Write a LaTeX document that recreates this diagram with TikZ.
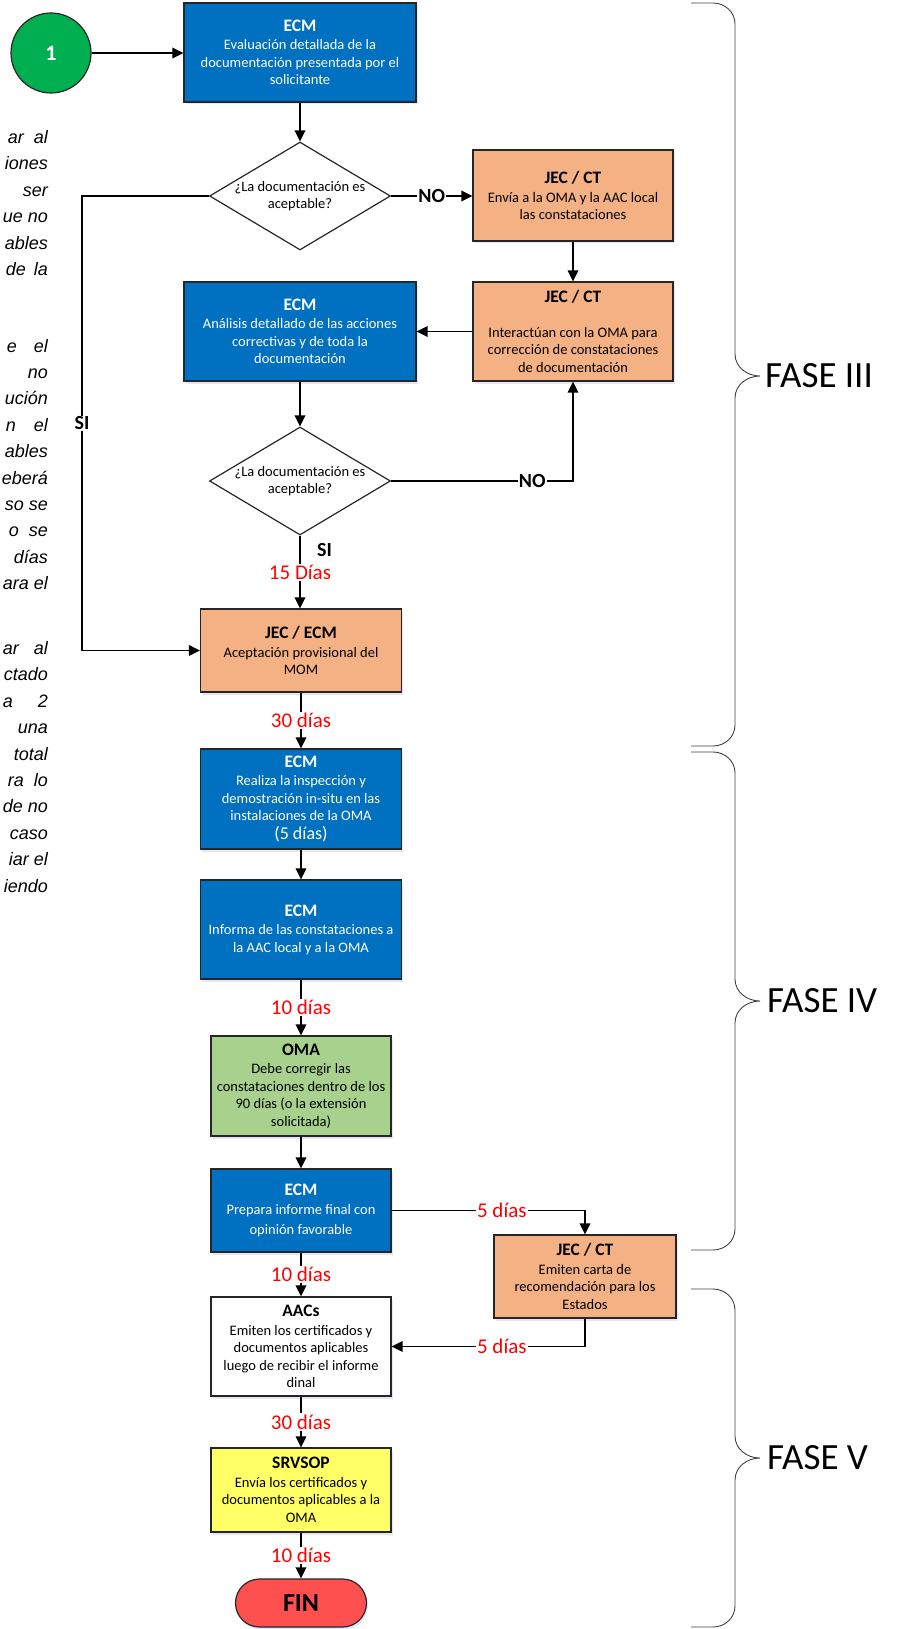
\documentclass[tikz,border=0pt]{standalone}
\usepackage{fontspec}
\setmainfont{Carlito}
\newfontfamily\sidefont{Liberation Sans}
\usetikzlibrary{arrows.meta,shapes.geometric,shadows}

\definecolor{ecmblue}{HTML}{0070C0}
\definecolor{jecorange}{HTML}{F4B183}
\definecolor{omagreen}{HTML}{A9D18E}
\definecolor{srvyellow}{HTML}{FFFF66}
\definecolor{startgreen}{HTML}{00B050}
\definecolor{finred}{HTML}{FF5050}
\definecolor{dayred}{HTML}{FF0000}
\definecolor{edgeline}{HTML}{262626}
\definecolor{bracegray}{HTML}{404040}

% bold heading line of a process box
\newcommand\hd[1]{{\fontsize{17.5}{20}\selectfont\bfseries #1}}

\tikzset{
  box/.style={rectangle, draw=edgeline, line width=1.2pt, align=center, inner sep=2pt,
    font=\fontsize{14.5}{17.5}\selectfont,
    drop shadow={shadow xshift=1.5pt, shadow yshift=-2.5pt, fill=black!30!blue!40, opacity=0.25}},
  ecm/.style={box, fill=ecmblue, text=white},
  jec/.style={box, fill=jecorange},
  oma/.style={box, fill=omagreen},
  srv/.style={box, fill=srvyellow},
  plainbox/.style={box, fill=white},
  dia/.style={diamond, draw=edgeline, line width=1.2pt, fill=white,
    minimum width=181pt, minimum height=108pt, inner sep=0pt},
  dtxt/.style={align=center, inner sep=0pt, font=\fontsize{14.5}{17.5}\selectfont},
  startc/.style={circle, draw=edgeline, line width=1.2pt, fill=startgreen, minimum size=80pt,
    inner sep=0pt, text=white, font=\fontsize{22}{24}\selectfont\bfseries},
  finnode/.style={rectangle, rounded corners=24pt, draw=edgeline, line width=1.2pt, fill=finred,
    minimum width=131pt, minimum height=48pt, inner sep=0pt,
    font=\fontsize{26}{28}\selectfont\bfseries,
    drop shadow={shadow xshift=1.5pt, shadow yshift=-2.5pt, fill=black!30!blue!40, opacity=0.25}},
  arr/.style={draw=black, line width=1.8pt, -{Triangle[length=11pt,width=10.5pt]}},
  day/.style={fill=white, text=dayred, inner sep=1.5pt, font=\fontsize{21}{24}\selectfont},
  yn/.style={fill=white, inner sep=1pt, font=\fontsize{20}{24}\selectfont\bfseries},
  brc/.style={draw=bracegray, line width=0.9pt},
  fase/.style={anchor=west, inner sep=0pt, font=\fontsize{37}{40}\selectfont},
  side/.style={anchor=base east, inner sep=0pt, font=\sidefont\itshape\fontsize{18}{20}\selectfont}
}

\begin{document}
\begin{tikzpicture}[x=1pt,y=-1pt]
\useasboundingbox (0,0) rectangle (898,1629);

% ---------- side paragraph (cut at the page edge) ----------
\node[side] (s1) at (48,143.5) {ar\hspace{10pt}al};
\node[side] (s2) at (48,169.9) {iones};
\node[side] (s3) at (48,196.3) {ser};
\node[side] (s4) at (48,222.7) {ue no};
\node[side] (s5) at (48,249.1) {ables};
\node[side] (s6) at (48,275.5) {de\hspace{8pt}la};

\node[side] (s7) at (48,352) {e\hspace{17pt}el};
\node[side] (s8) at (48,378.4) {no};
\node[side] (s9) at (48,404.8) {ución};
\node[side] (s10) at (48,431.2) {n\hspace{18pt}el};
\node[side] (s11) at (48,457.6) {ables};
\node[side] (s12) at (48,484) {eberá};
\node[side] (s13) at (48,510.4) {so se};
\node[side] (s14) at (48,536.8) {o\hspace{10pt}se};
\node[side] (s15) at (48,563.2) {días};
\node[side] (s16) at (48,589.6) {ara el};

\node[side] (s17) at (48,654.5) {ar\hspace{15pt}al};
\node[side] (s18) at (48,680.9) {ctado};
\node[side] (s19) at (48,707.3) {a\hspace{25pt}2};
\node[side] (s20) at (48,733.7) {una};
\node[side] (s21) at (48,760.1) {total};
\node[side] (s22) at (48,786.5) {ra\hspace{10pt}lo};
\node[side] (s23) at (48,812.9) {de no};
\node[side] (s24) at (48,839.3) {caso};
\node[side] (s25) at (48,865.7) {iar el};
\node[side] (s26) at (48,892.1) {iendo};

% ---------- flow nodes ----------
\node[startc] (c1) at (51,53) {1};

\node[ecm, minimum width=232pt, minimum height=99pt] (b1) at (300,52.5)
  {\hd{ECM}\\[1pt] Evaluación detallada de la\\documentación presentada por el\\solicitante};

\node[dia] (d1) at (300,196) {};
\node[dtxt] (d1t) at (300,196) {¿La documentación es\\aceptable?};

\node[jec, minimum width=200pt, minimum height=91pt] (j1) at (573,195.5)
  {\hd{JEC / CT}\\[1pt] Envía a la OMA y la AAC local\\las constataciones};

\node[jec, minimum width=200pt, minimum height=99pt] (j2) at (573,331.5)
  {\hd{JEC / CT}\\[17pt] Interactúan con la OMA para\\corrección de constataciones\\de documentación};

\node[ecm, minimum width=232pt, minimum height=99pt] (e2) at (300,331.5)
  {\hd{ECM}\\[1pt] Análisis detallado de las acciones\\correctivas y de toda la\\documentación};

\node[dia] (d2) at (300,481) {};
\node[dtxt] (d2t) at (300,481) {¿La documentación es\\aceptable?};

\node[jec, minimum width=201pt, minimum height=83pt] (jm) at (301,650.5)
  {\hd{JEC / ECM}\\[1pt] Aceptación provisional del\\MOM};

\node[ecm, minimum width=201pt, minimum height=100pt] (e3) at (301,799)
  {\hd{ECM}\\[1pt] Realiza la inspección y\\demostración in-situ en las\\instalaciones de la OMA\\[1pt]
   {\fontsize{18}{20}\selectfont (5 días)}};

\node[ecm, minimum width=201pt, minimum height=99pt] (e4) at (301,929.5)
  {\hd{ECM}\\[1pt] Informa de las constataciones a\\la AAC local y a la OMA};

\node[oma, minimum width=180pt, minimum height=100pt] (om) at (301,1086)
  {\hd{OMA}\\[1pt] Debe corregir las\\constataciones dentro de los\\90 días (o la extensión\\solicitada)};

\node[ecm, minimum width=180pt, minimum height=83pt, font=\fontsize{14.5}{20.5}\selectfont] (e5) at (301,1210.5)
  {\hd{ECM}\\[-1.5pt] Prepara informe final con\\opinión favorable};

\node[jec, minimum width=182pt, minimum height=83pt] (j3) at (585,1276.5)
  {\hd{JEC / CT}\\[1pt] Emiten carta de\\recomendación para los\\Estados};

\node[plainbox, minimum width=180pt, minimum height=99pt] (ac) at (301,1346.5)
  {\hd{AACs}\\[1pt] Emiten los certificados y\\documentos aplicables\\luego de recibir el informe\\dinal};

\node[srv, minimum width=180pt, minimum height=84pt] (sv) at (301,1490)
  {\hd{SRVSOP}\\[1pt] Envía los certificados y\\documentos aplicables a la\\OMA};

\node[finnode] (fin) at (301,1603) {FIN};

% ---------- connectors ----------
\coordinate (lb) at (82,0);

\draw[arr] (c1.east) -- (c1.east -| b1.west);
\draw[arr] (b1.south) -- (d1.north);
\draw[arr] (d1.east) -- node[yn]{NO} (d1.east -| j1.west);
\draw[arr] (j1.south) -- (j2.north);
\draw[arr] (j2.west) -- (j2.west -| e2.east);
\draw[arr] (e2.south) -- (d2.north);
\draw[arr] (d2.east) -- node[yn, pos=0.776]{NO} (d2.east -| j2.south) -- (j2.south);
\draw[arr] (d2.south) -- node[day, pos=0.51]{15 Días} (d2.south |- jm.north);
\node[yn, fill=none, anchor=west] (si2) at (316,550) {SI};
\draw[arr] (d1.west) -- (d1.west -| lb) -- node[yn]{SI} (jm.west -| lb) -- (jm.west);
\draw[arr] (jm.south) -- node[day]{30 días} (e3.north);
\draw[arr] (e3.south) -- (e4.north);
\draw[arr] (e4.south) -- node[day]{10 días} (om.north);
\draw[arr] (om.south) -- (e5.north);
\draw[arr] (e5.east) -| node[day, pos=0.285]{5 días} (j3.north);
\draw[arr] (e5.south) -- node[day]{10 días} (ac.north);
\draw[arr] (j3.south) |- node[day, pos=0.715]{5 días} (ac.east);
\draw[arr] (ac.south) -- node[day]{30 días} (sv.north);
\draw[arr] (sv.south) -- node[day]{10 días} (fin.north);

% ---------- phase braces ----------
\draw[brc] (691,3) -- (713,3) to[out=0,in=90] (735,24) -- (735,354)
  to[out=-90,in=180] (760,376) to[out=180,in=90] (735,398) -- (735,725)
  to[out=-90,in=0] (713,746) -- (691,746);
\node[fase] (f3) at (765,376) {FASE III};

\draw[brc] (691,752) -- (713,752) to[out=0,in=90] (735,773) -- (735,979)
  to[out=-90,in=180] (760,1001) to[out=180,in=90] (735,1023) -- (735,1229)
  to[out=-90,in=0] (713,1250) -- (691,1250);
\node[fase] (f4) at (767,1001) {FASE IV};

\draw[brc] (691,1289) -- (713,1289) to[out=0,in=90] (735,1310) -- (735,1436)
  to[out=-90,in=180] (760,1458) to[out=180,in=90] (735,1480) -- (735,1606)
  to[out=-90,in=0] (713,1627) -- (691,1627);
\node[fase] (f5) at (767,1458) {FASE V};

\end{tikzpicture}
\end{document}
